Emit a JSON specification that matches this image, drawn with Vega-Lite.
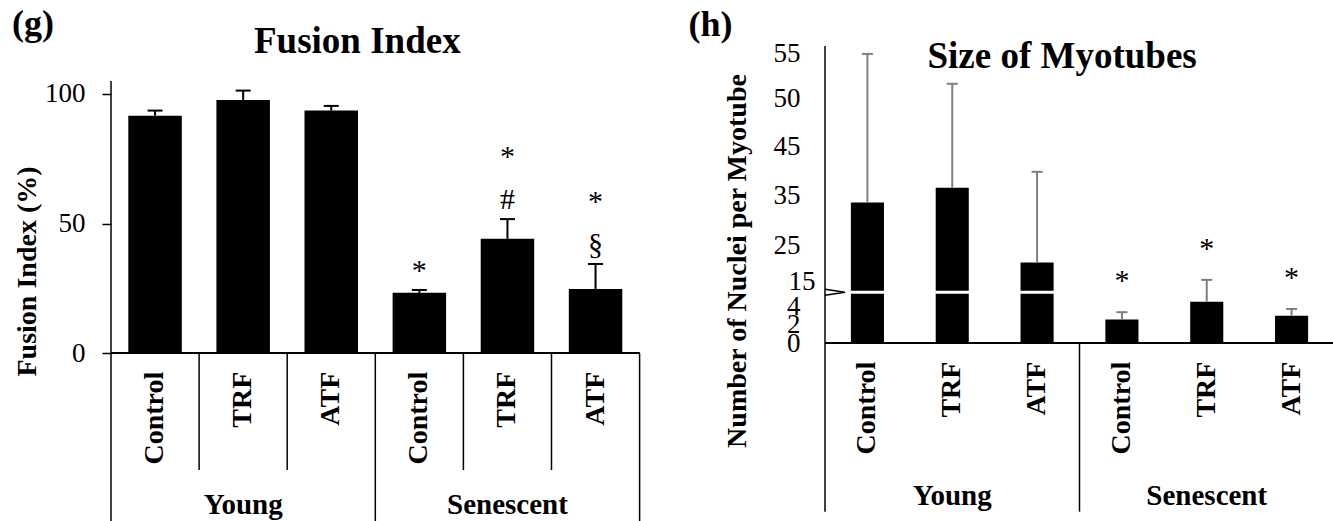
{
  "$schema": "https://vega.github.io/schema/vega-lite/v6.json",
  "background": "white",
  "padding": {"left": 12, "top": 0, "right": 0, "bottom": 0},
  "config": {"font": "Liberation Serif", "view": {"stroke": null}},
  "datasets": {
    "fusion": [
      {"group": "Young", "treatment": "Control", "cat": "Young Control", "mean": 91.5, "upper": 93.5, "sigLow": "", "sigHigh": ""},
      {"group": "Young", "treatment": "TRF", "cat": "Young TRF", "mean": 97.6, "upper": 101.2, "sigLow": "", "sigHigh": ""},
      {"group": "Young", "treatment": "ATF", "cat": "Young ATF", "mean": 93.5, "upper": 95.3, "sigLow": "", "sigHigh": ""},
      {"group": "Senescent", "treatment": "Control", "cat": "Senescent Control", "mean": 23.3, "upper": 24.4, "sigLow": "*", "sigHigh": ""},
      {"group": "Senescent", "treatment": "TRF", "cat": "Senescent TRF", "mean": 44.1, "upper": 51.7, "sigLow": "#", "sigHigh": "*"},
      {"group": "Senescent", "treatment": "ATF", "cat": "Senescent ATF", "mean": 24.8, "upper": 34.4, "sigLow": "§", "sigHigh": "*"}
    ],
    "size": [
      {"group": "Young", "treatment": "Control", "cat": "Young Control", "mean": 33.5, "upper": 54.9, "sig": ""},
      {"group": "Young", "treatment": "TRF", "cat": "Young TRF", "mean": 36.5, "upper": 51.6, "sig": ""},
      {"group": "Young", "treatment": "ATF", "cat": "Young ATF", "mean": 20.2, "upper": 39.8, "sig": ""},
      {"group": "Senescent", "treatment": "Control", "cat": "Senescent Control", "mean": 2.6, "upper": 3.4, "sig": "*"},
      {"group": "Senescent", "treatment": "TRF", "cat": "Senescent TRF", "mean": 4.55, "upper": 15.5, "sig": "*"},
      {"group": "Senescent", "treatment": "ATF", "cat": "Senescent ATF", "mean": 3.0, "upper": 3.75, "sig": "*"}
    ]
  },
  "spacing": 47,
  "hconcat": [
    {
      "width": 528.6,
      "height": 521,
      "data": {"name": "fusion"},
      "layer": [
        {
          "mark": {"type": "bar", "color": "black", "width": {"band": 0.607}},
          "encoding": {
            "x": {"field": "cat", "type": "nominal", "sort": null, "axis": null,
                  "scale": {"domain": ["Young Control", "Young TRF", "Young ATF", "Senescent Control", "Senescent TRF", "Senescent ATF"], "paddingInner": 0, "paddingOuter": 0}},
            "y": {"field": "mean", "type": "quantitative",
                  "scale": {"domain": [-64.6, 136.1], "nice": false, "zero": false},
                  "axis": {"values": [0, 50, 100], "domain": false, "grid": false, "ticks": true, "tickSize": 9, "tickColor": "black", "tickWidth": 1.5,
                           "labelFontSize": 27, "labelColor": "black", "labelPadding": 17, "labelOverlap": false, "labelFlush": false,
                           "title": "Fusion Index (%)", "titleFontSize": 28, "titleFontWeight": "bold", "titleColor": "black", "titlePadding": 3, "titleY": 271}},
            "y2": {"datum": 0}
          }
        },
        {
          "mark": {"type": "rule", "color": "black", "strokeWidth": 2},
          "encoding": {"x": {"field": "cat", "type": "nominal"}, "y": {"field": "mean", "type": "quantitative"}, "y2": {"field": "upper"}}
        },
        {
          "mark": {"type": "tick", "color": "black", "size": 15, "thickness": 2, "opacity": 1},
          "encoding": {"x": {"field": "cat", "type": "nominal"}, "y": {"field": "upper", "type": "quantitative"}}
        },
        {
          "mark": {"type": "rule", "color": "black", "strokeWidth": 1.5},
          "encoding": {"y": {"datum": 0}}
        },
        {
          "transform": [{"filter": "datum.cat == 'Young Control'"}],
          "mark": {"type": "rule", "color": "black", "strokeWidth": 1.5},
          "encoding": {"x": {"field": "cat", "type": "nominal", "bandPosition": 0}, "y": {"datum": -64.6}, "y2": {"datum": 104.9}}
        },
        {
          "transform": [{"filter": "datum.cat == 'Senescent Control'"}],
          "mark": {"type": "rule", "color": "black", "strokeWidth": 1.5},
          "encoding": {"x": {"field": "cat", "type": "nominal", "bandPosition": 0}, "y": {"datum": 0}, "y2": {"datum": -64.6}}
        },
        {
          "transform": [{"filter": "datum.cat == 'Senescent ATF'"}],
          "mark": {"type": "rule", "color": "black", "strokeWidth": 1.5},
          "encoding": {"x": {"field": "cat", "type": "nominal", "bandPosition": 1}, "y": {"datum": 0}, "y2": {"datum": -64.6}}
        },
        {
          "transform": [{"filter": "datum.treatment != 'Control'"}],
          "mark": {"type": "rule", "color": "black", "strokeWidth": 1.5},
          "encoding": {"x": {"field": "cat", "type": "nominal", "bandPosition": 0}, "y": {"datum": 0}, "y2": {"datum": -45}}
        },
        {
          "mark": {"type": "text", "angle": 270, "align": "right", "baseline": "middle", "fontSize": 28, "fontWeight": "bold", "color": "black"},
          "encoding": {"x": {"field": "cat", "type": "nominal"}, "y": {"datum": -7.1}, "text": {"field": "treatment"}}
        },
        {
          "transform": [{"filter": "datum.treatment == 'TRF'"}],
          "mark": {"type": "text", "align": "center", "baseline": "middle", "fontSize": 29, "fontWeight": "bold", "color": "black"},
          "encoding": {"x": {"field": "cat", "type": "nominal"}, "y": {"datum": -58.4}, "text": {"field": "group"}}
        },
        {
          "mark": {"type": "text", "align": "center", "baseline": "middle", "fontSize": 30, "color": "black", "dy": -19},
          "encoding": {"x": {"field": "cat", "type": "nominal"}, "y": {"field": "upper", "type": "quantitative"}, "text": {"field": "sigLow"}}
        },
        {
          "mark": {"type": "text", "align": "center", "baseline": "middle", "fontSize": 30, "color": "black", "dy": -62},
          "encoding": {"x": {"field": "cat", "type": "nominal"}, "y": {"field": "upper", "type": "quantitative"}, "text": {"field": "sigHigh"}}
        },
        {
          "transform": [{"filter": "datum.cat == 'Senescent Control'"}],
          "mark": {"type": "text", "align": "center", "baseline": "alphabetic", "fontSize": 37, "fontWeight": "bold", "color": "black", "dx": -18},
          "encoding": {"x": {"field": "cat", "type": "nominal", "bandPosition": 0}, "y": {"datum": 115.6}, "text": {"value": "Fusion Index"}}
        },
        {
          "transform": [{"filter": "datum.cat == 'Young Control'"}],
          "mark": {"type": "text", "align": "left", "baseline": "alphabetic", "fontSize": 36, "fontWeight": "bold", "color": "black", "dx": -99},
          "encoding": {"x": {"field": "cat", "type": "nominal", "bandPosition": 0}, "y": {"datum": 122.5}, "text": {"value": "(g)"}}
        }
      ]
    },
    {
      "width": 509,
      "height": 521,
      "data": {"name": "size"},
      "layer": [
        {
          "mark": {"type": "bar", "color": "black", "width": {"band": 0.39}},
          "encoding": {
            "x": {"field": "cat", "type": "nominal", "sort": null, "axis": null,
                  "scale": {"domain": ["Young Control", "Young TRF", "Young ATF", "Senescent Control", "Senescent TRF", "Senescent ATF"], "paddingInner": 0, "paddingOuter": 0}},
            "y": {"field": "mean", "type": "quantitative",
                  "scale": {"domain": [-19.42, 0, 5.57, 12.1, 15, 25, 35, 45, 50, 55, 60.85],
                            "range": [521, 343.3, 292.3, 292.3, 281.7, 245, 195, 146.7, 98.3, 53, 0],
                            "nice": false, "zero": false},
                  "axis": {"values": [0, 2, 4, 15, 25, 35, 45, 50, 55], "domain": false, "grid": false, "ticks": false,
                           "labelFontSize": 27, "labelColor": "black", "labelOverlap": false, "labelFlush": false,
                           "labelPadding": {"condition": {"test": "datum.value == 15", "value": 10}, "value": 25},
                           "title": "Number of Nuclei per Myotube", "titleFontSize": 28, "titleFontWeight": "bold", "titleColor": "black", "titlePadding": 22}},
            "y2": {"datum": 0}
          }
        },
        {
          "transform": [{"filter": "datum.mean > 12.1"}],
          "mark": {"type": "tick", "color": "white", "size": 34, "thickness": 3, "opacity": 1},
          "encoding": {"x": {"field": "cat", "type": "nominal"}, "y": {"datum": 8}}
        },
        {
          "mark": {"type": "rule", "color": "#7f7f7f", "strokeWidth": 2},
          "encoding": {"x": {"field": "cat", "type": "nominal"}, "y": {"field": "mean", "type": "quantitative"}, "y2": {"field": "upper"}}
        },
        {
          "mark": {"type": "tick", "color": "#7f7f7f", "size": 11, "thickness": 2, "opacity": 1},
          "encoding": {"x": {"field": "cat", "type": "nominal"}, "y": {"field": "upper", "type": "quantitative"}}
        },
        {
          "mark": {"type": "rule", "color": "black", "strokeWidth": 1.5},
          "encoding": {"y": {"datum": 0}}
        },
        {
          "transform": [{"filter": "datum.cat == 'Young Control'"}],
          "mark": {"type": "rule", "color": "black", "strokeWidth": 1.5},
          "encoding": {"x": {"field": "cat", "type": "nominal", "bandPosition": 0}, "y": {"datum": -18.4}, "y2": {"datum": 55.77}}
        },
        {
          "transform": [{"filter": "datum.cat == 'Young Control'"}],
          "mark": {"type": "point", "shape": "M0,-0.3L2,0L0,0.3", "size": 400, "filled": false, "color": "black", "strokeWidth": 1.5, "opacity": 1},
          "encoding": {"x": {"field": "cat", "type": "nominal", "bandPosition": 0}, "y": {"datum": 8}}
        },
        {
          "transform": [{"filter": "datum.cat == 'Senescent Control'"}],
          "mark": {"type": "rule", "color": "black", "strokeWidth": 1.5},
          "encoding": {"x": {"field": "cat", "type": "nominal", "bandPosition": 0}, "y": {"datum": 0}, "y2": {"datum": -18.4}}
        },
        {
          "mark": {"type": "text", "angle": 270, "align": "right", "baseline": "middle", "fontSize": 28, "fontWeight": "bold", "color": "black"},
          "encoding": {"x": {"field": "cat", "type": "nominal"}, "y": {"datum": -2.0}, "text": {"field": "treatment"}}
        },
        {
          "transform": [{"filter": "datum.treatment == 'TRF'"}],
          "mark": {"type": "text", "align": "center", "baseline": "middle", "fontSize": 29, "fontWeight": "bold", "color": "black"},
          "encoding": {"x": {"field": "cat", "type": "nominal"}, "y": {"datum": -16.69}, "text": {"field": "group"}}
        },
        {
          "mark": {"type": "text", "align": "center", "baseline": "middle", "fontSize": 30, "color": "black", "dy": -31},
          "encoding": {"x": {"field": "cat", "type": "nominal"}, "y": {"field": "upper", "type": "quantitative"}, "text": {"field": "sig"}}
        },
        {
          "transform": [{"filter": "datum.cat == 'Senescent Control'"}],
          "mark": {"type": "text", "align": "center", "baseline": "alphabetic", "fontSize": 37, "fontWeight": "bold", "color": "black", "dx": -17.4},
          "encoding": {"x": {"field": "cat", "type": "nominal", "bandPosition": 0}, "y": {"datum": 53.3}, "text": {"value": "Size of Myotubes"}}
        },
        {
          "transform": [{"filter": "datum.cat == 'Young Control'"}],
          "mark": {"type": "text", "align": "left", "baseline": "alphabetic", "fontSize": 36, "fontWeight": "bold", "color": "black", "dx": -136.6},
          "encoding": {"x": {"field": "cat", "type": "nominal", "bandPosition": 0}, "y": {"datum": 56.9}, "text": {"value": "(h)"}}
        }
      ]
    }
  ]
}
